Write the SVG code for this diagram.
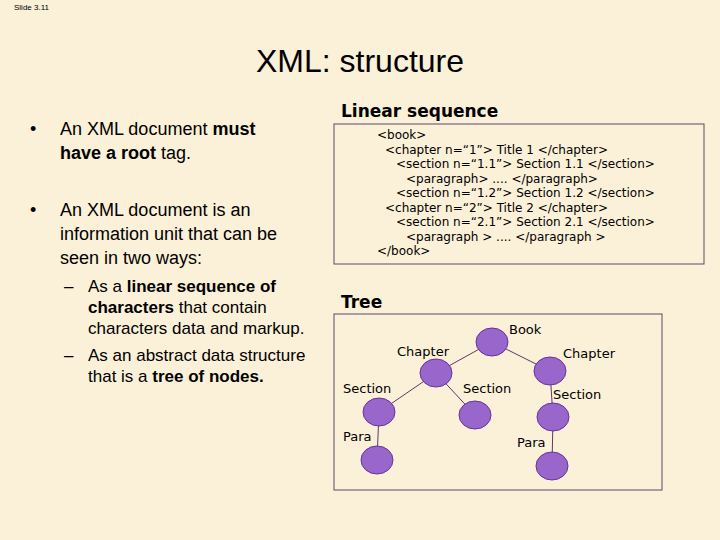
<svg xmlns="http://www.w3.org/2000/svg" width="720" height="540" viewBox="0 0 720 540">
<style>
.t{font-family:"Liberation Sans",Arial,sans-serif;fill:#000}
.b{font-size:18px}
.c{font-family:"DejaVu Sans",Verdana,sans-serif;font-size:12px;fill:#000}
.n{fill:#9966cc;stroke:#663399;stroke-width:1}
.l{font-family:"DejaVu Sans",Verdana,sans-serif;font-size:13px;fill:#000}
</style>
<rect width="720" height="540" fill="#fbf0d8"/>
<text class="t" x="14" y="10" font-size="8">Slide 3.11</text>
<text class="t" x="360" y="72" font-size="32" text-anchor="middle">XML: structure</text>
<g id="bullets">
<text class="t b" x="30" y="135">•</text>
<text class="t b" x="60" y="135">An XML document <tspan font-weight="bold">must</tspan></text>
<text class="t b" x="60" y="159"><tspan font-weight="bold">have a root</tspan> tag.</text>
<text class="t b" x="30" y="216">•</text>
<text class="t b" x="60" y="216">An XML document is an</text>
<text class="t b" x="60" y="240">information unit that can be</text>
<text class="t b" x="60" y="264">seen in two ways:</text>
<text class="t" x="64" y="292" font-size="17">–</text>
<text class="t" x="88" y="292" font-size="17">As a <tspan font-weight="bold">linear sequence of</tspan></text>
<text class="t" x="88" y="313" font-size="17"><tspan font-weight="bold">characters</tspan> that contain</text>
<text class="t" x="88" y="334" font-size="17">characters data and markup.</text>
<text class="t" x="64" y="361" font-size="17">–</text>
<text class="t" x="88" y="361" font-size="17">As an abstract data structure</text>
<text class="t" x="88" y="382" font-size="17">that is a <tspan font-weight="bold">tree of nodes.</tspan></text>
</g>
<g id="linear">
<text x="341" y="117" font-family="DejaVu Sans,Verdana,sans-serif" font-size="17" font-weight="bold">Linear sequence</text>
<rect x="334" y="124" width="370" height="140" fill="none" stroke="#5a4a6a" stroke-width="1"/>
<text class="c" x="377" y="139">&lt;book&gt;</text>
<text class="c" x="385" y="154">&lt;chapter n=“1”&gt;   Title 1 &lt;/chapter&gt;</text>
<text class="c" x="396" y="168">&lt;section n=“1.1”&gt; Section 1.1 &lt;/section&gt;</text>
<text class="c" x="406" y="183">&lt;paragraph&gt; .... &lt;/paragraph&gt;</text>
<text class="c" x="396" y="197">&lt;section n=“1.2”&gt; Section 1.2 &lt;/section&gt;</text>
<text class="c" x="385" y="212">&lt;chapter n=“2”&gt;   Title 2 &lt;/chapter&gt;</text>
<text class="c" x="396" y="226">&lt;section n=“2.1”&gt; Section 2.1 &lt;/section&gt;</text>
<text class="c" x="406" y="241">&lt;paragraph &gt; .... &lt;/paragraph &gt;</text>
<text class="c" x="377" y="255">&lt;/book&gt;</text>
</g>
<text x="341" y="308" font-family="DejaVu Sans,Verdana,sans-serif" font-size="17" font-weight="bold">Tree</text>
<rect x="334" y="314" width="328" height="176" fill="none" stroke="#5a4a6a" stroke-width="1"/>
<g id="connectors" stroke="#5a3a6a" stroke-width="1">
<line x1="492" y1="342" x2="436" y2="373"/>
<line x1="492" y1="342" x2="550" y2="371"/>
<line x1="436" y1="373" x2="379" y2="412"/>
<line x1="436" y1="373" x2="475" y2="415"/>
<line x1="550" y1="371" x2="553" y2="417"/>
<line x1="379" y1="412" x2="377" y2="460"/>
<line x1="553" y1="417" x2="552" y2="466"/>
</g>
<g id="book"><ellipse class="n" cx="492" cy="342" rx="16" ry="14"/><text class="l" x="509" y="334">Book</text></g>
<g id="chapter1"><ellipse class="n" cx="436" cy="373" rx="16" ry="14"/><text class="l" x="397" y="356">Chapter</text></g>
<g id="chapter2"><ellipse class="n" cx="550" cy="371" rx="16" ry="14"/><text class="l" x="563" y="358">Chapter</text></g>
<g id="section11"><ellipse class="n" cx="379" cy="412" rx="16" ry="14"/><text class="l" x="343" y="393">Section</text></g>
<g id="section12"><ellipse class="n" cx="475" cy="415" rx="16" ry="14"/><text class="l" x="463" y="393">Section</text></g>
<g id="section21"><ellipse class="n" cx="553" cy="417" rx="16" ry="14"/><text class="l" x="553" y="399">Section</text></g>
<g id="para1"><ellipse class="n" cx="377" cy="460" rx="16" ry="14"/><text class="l" x="343" y="441">Para</text></g>
<g id="para2"><ellipse class="n" cx="552" cy="466" rx="16" ry="14"/><text class="l" x="517" y="447">Para</text></g>
</svg>
